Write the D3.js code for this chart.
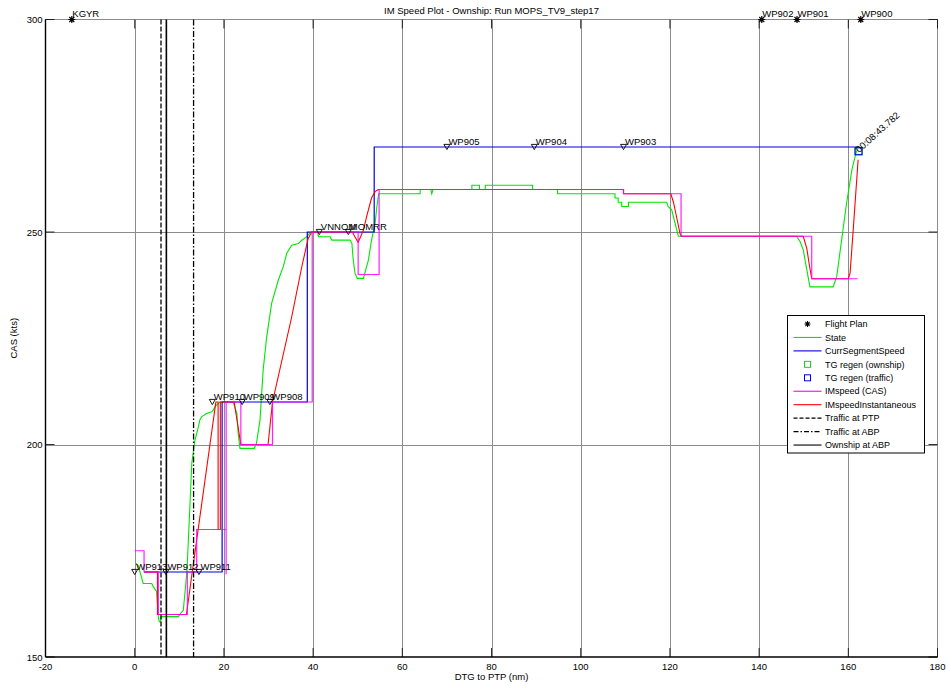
<!DOCTYPE html>
<html>
<head>
<meta charset="utf-8">
<script src="https://cdn.jsdelivr.net/npm/d3@7"></script>
<style>
  body { margin: 0; background: #fff; }
  text { font-family: "Liberation Sans", Arial, sans-serif; fill: #000; }
</style>
</head>
<body>
<svg id="chart" width="946" height="685"></svg>
<script>
// ---- axis ticks ----
const xTicks = [-20, 0, 20, 40, 60, 80, 100, 120, 140, 160, 180];
const yTicks = [150, 200, 250, 300];

// ---- flight plan fixes (plotted at the top of the CAS range) ----
const fixNames = ["KGYR", "WP902", "WP901", "WP900"];
const fixDtg   = [-14.1, 140.6, 148.5, 162.8];
const fixCas   = [300, 300, 300, 300];

// ---- speed-constraint waypoints ----
const wpNames = ["WP913", "WP912", "WP911", "WP910", "WP909", "WP908", "VNNOM", "MOMRR", "WP905", "WP904", "WP903"];
const wpDtg   = [0, 7.0, 14.4, 17.4, 24.1, 30.3, 41.4, 47.9, 70.0, 89.6, 109.6];
const wpCas   = [170, 170, 170, 210, 210, 210, 250, 250, 270, 270, 270];

// ---- State (CAS) ----
const stateDtg = [0.3, 0.8, 1.9, 3.8, 4.2, 4.9, 5.3, 5.5, 5.8, 5.9, 9.8, 10.3, 10.9, 11.7, 12.4, 12.8, 13.5, 14.3, 14.6, 15.0,
  16.1, 17.3, 17.6, 18.0, 19.1, 22.1, 22.9, 23.2, 23.6, 26.8, 27.3, 28.1, 28.8, 29.6, 30.7, 32.2, 33.3, 34.1, 35.2, 36.7,
  37.4, 38.6, 39.3, 39.7, 41.0, 41.2, 43.8, 44.2, 48.3, 48.7, 49.0, 49.4, 49.9, 51.3, 51.6, 52.4, 53.1, 53.9, 54.3, 54.7,
  64.0, 64.0, 66.4, 66.6, 66.9, 75.6, 75.6, 77.3, 77.3, 78.6, 78.6, 89.2, 89.2, 94.8, 94.8, 107.7, 107.7, 108.4, 108.4, 109.2,
  109.2, 110.7, 110.7, 119.3, 119.6, 120.4, 121.9, 148.4, 149.2, 149.9, 150.7, 151.4, 156.6, 157.4, 158.5, 159.6, 160.8, 161.7, 162.1];
const stateCas = [172, 171.5, 167.3, 167.3, 166.5, 165.4, 159.5, 158.3, 158.3, 159.5, 159.5, 160.3, 161, 170, 186, 195.6, 201, 204.2, 205.8, 206.5,
  207.3, 207.7, 208.1, 208.9, 210, 210, 207.3, 202.6, 199.1, 199.1, 200.3, 205.8, 217.5, 225.4, 233.2, 238.7, 241.8, 245, 246.9, 247.3,
  248, 248.9, 249.8, 250, 250, 248.9, 248.9, 248.1, 248.1, 247.3, 243.4, 240.3, 239.1, 239.1, 240.3, 243.4, 248.1, 252, 256, 259,
  259, 260, 260, 259, 260, 260, 261, 261, 260, 260, 261, 261, 260, 260, 259, 259, 258, 258, 257, 257,
  256, 256, 257, 257, 256, 255.2, 249, 249, 247.7, 245.8, 241.1, 237.1, 237.1, 239.5, 248.1, 256.7, 264.6, 268.5, 269.5];

// ---- current segment speed ----
const segDtg = [2.1, 19.6, 19.6, 38.7, 38.7, 53.7, 53.7, 162.3];
const segCas = [170, 170, 210, 210, 250, 250, 270, 270];

// ---- trajectory generator regeneration points ----
const tgOwnDtg = [162.3], tgOwnCas = [269];
const tgTrfDtg = [162.3], tgTrfCas = [269];
const tgTimeLabel = "00:08:43.782";

// ---- IM speed (CAS) ----
const imDtg = [0, 2.1, 2.1, 5.3, 5.3, 11.8, 11.8, 13.9, 13.9, 20.5, 20.5, 20.5, 23.8, 23.8, 30.9, 30.9, 39.8, 39.8, 50.1, 50.1,
  54.8, 54.8, 109.6, 109.6, 122.5, 122.5, 151.8, 151.8, 162.1];
const imCas = [175, 175, 170, 170, 160, 160, 170, 170, 180, 180, 169.5, 210, 210, 200, 200, 210, 210, 250, 250, 240,
  240, 260, 260, 259, 259, 249, 249, 239, 239];

// ---- IM speed, instantaneous ----
const imInstDtg = [2.1, 5.1, 5.1, 11.6, 12.9, 18.2, 18.7, 18.7, 19.2, 19.2, 22.3, 23.8, 29.9, 30.9, 35.2, 37.5, 38.9, 39.7,
  48.8, 49.3, 50.1, 50.7, 51.3, 52.0, 53.1, 53.9, 54.6, 109.6, 109.6, 120.2, 120.8, 121.6, 122.3, 122.6,
  149.9, 150.7, 151.3, 151.8, 160.0, 160.4, 161.1, 162.2];
const imInstCas = [170, 170, 160, 160, 170, 210, 210, 180, 180, 210, 210, 200, 200, 210, 230, 242, 248.5, 250,
  250, 249, 247.6, 249, 250.5, 253.6, 258, 259.5, 260, 260, 259, 259, 257, 253, 249.5, 249,
  249, 246.1, 242, 239, 239, 240.3, 250.5, 267];

// ---- reference positions (DTG, nm) ----
const trafficAtPtp = 5.9;
const trafficAtAbp = 13.2;
const ownshipAtAbp = 7.1;

// ---- layout ----
const W = 946, H = 685;
const L = 45.5, R = 937.5, T = 19.5, B = 657;
const svg = d3.select("#chart");
const x = d3.scaleLinear().domain([-20, 180]).range([L, R]);
const y = d3.scaleLinear().domain([150, 300]).range([B, T]);

const COL = { state: "#00e600", seg: "#0000e6", im: "#ff00ff", imInst: "#ff0000", grid: "#8c8c8c" };

svg.append("rect").attr("width", W).attr("height", H).attr("fill", "#fff");

svg.append("defs").append("clipPath").attr("id", "plotClip")
  .append("rect").attr("x", L).attr("y", T - 6).attr("width", R - L).attr("height", B - T + 6);

// grid
const grid = svg.append("g");
grid.selectAll(".gx").data(xTicks.slice(1, -1)).join("line")
  .attr("x1", d => Math.round(x(d)) + 0.5).attr("x2", d => Math.round(x(d)) + 0.5)
  .attr("y1", T).attr("y2", B)
  .attr("stroke", COL.grid).attr("stroke-width", 1);
grid.selectAll(".gy").data(yTicks.slice(1, -1)).join("line")
  .attr("y1", d => Math.round(y(d)) + 0.5).attr("y2", d => Math.round(y(d)) + 0.5)
  .attr("x1", L).attr("x2", R)
  .attr("stroke", COL.grid).attr("stroke-width", 1);
// top and right frame
grid.append("line").attr("x1", L).attr("x2", R).attr("y1", T).attr("y2", T).attr("stroke", COL.grid);
grid.append("line").attr("x1", R).attr("x2", R).attr("y1", T).attr("y2", B).attr("stroke", COL.grid);

// data layer
const plot = svg.append("g").attr("clip-path", "url(#plotClip)");
const line = d3.line().x(d => x(d[0])).y(d => y(d[1]));
const zipPts = (a, b) => a.map((v, i) => [v, b[i]]);

plot.append("path").datum(zipPts(stateDtg, stateCas)).attr("d", line)
  .attr("fill", "none").attr("stroke", COL.state).attr("stroke-width", 1.1);
plot.append("path").datum(zipPts(segDtg, segCas)).attr("d", line)
  .attr("fill", "none").attr("stroke", COL.seg).attr("stroke-width", 1.2);
plot.append("path").datum(zipPts(imInstDtg, imInstCas)).attr("d", line)
  .attr("fill", "none").attr("stroke", COL.imInst).attr("stroke-width", 1.1);
plot.append("path").datum(zipPts(imDtg, imCas)).attr("d", line)
  .attr("fill", "none").attr("stroke", COL.im).attr("stroke-width", 1.2).attr("stroke-opacity", 0.88);

// TG regen squares
plot.selectAll(".tgo").data(zipPts(tgOwnDtg, tgOwnCas)).join("rect")
  .attr("x", d => x(d[0]) - 3.5).attr("y", d => y(d[1]) - 3.5).attr("width", 7).attr("height", 7)
  .attr("fill", "none").attr("stroke", COL.state).attr("stroke-width", 1);
plot.selectAll(".tgt").data(zipPts(tgTrfDtg, tgTrfCas)).join("rect")
  .attr("x", d => x(d[0]) - 3.5).attr("y", d => y(d[1]) - 3.5).attr("width", 7).attr("height", 7)
  .attr("fill", "none").attr("stroke", COL.seg).attr("stroke-width", 1.1);
svg.selectAll(".tgl").data(zipPts(tgTrfDtg, tgTrfCas)).join("text")
  .attr("transform", d => `translate(${x(d[0]) + 0.5},${y(d[1]) + 2}) rotate(-42)`)
  .attr("font-size", 9.5).text(tgTimeLabel);

// reference vertical lines
const vlines = [
  { v: trafficAtPtp, dash: "5,2", w: 1.3 },
  { v: trafficAtAbp, dash: "6,2,1.5,2", w: 1.3 },
  { v: ownshipAtAbp, dash: null, w: 1.6 }
];
vlines.forEach(o => {
  plot.append("line").attr("x1", x(o.v)).attr("x2", x(o.v)).attr("y1", T).attr("y2", B)
    .attr("stroke", "#000").attr("stroke-width", o.w).attr("stroke-dasharray", o.dash);
});

// waypoint triangles and labels
const tri = "M-3,-2.6L3,-2.6L0,2.6Z";
const wps = wpNames.map((n, i) => ({ n, px: x(wpDtg[i]), py: y(wpCas[i]) }));
svg.selectAll(".wp").data(wps).join("path")
  .attr("d", tri).attr("transform", d => `translate(${d.px},${d.py})`)
  .attr("fill", "none").attr("stroke", "#000").attr("stroke-width", 0.9);
svg.selectAll(".wpl").data(wps).join("text")
  .attr("x", d => d.px + 1.5).attr("y", d => d.py - 2.5)
  .attr("font-size", 9.5).text(d => d.n);

// flight plan asterisks and labels
const star = "M-3.5,0L3.5,0M0,-3.5L0,3.5M-2.5,-2.5L2.5,2.5M-2.5,2.5L2.5,-2.5";
const fixes = fixNames.map((n, i) => ({ n, px: x(fixDtg[i]), py: y(fixCas[i]) }));
svg.selectAll(".fx").data(fixes).join("path")
  .attr("d", star).attr("transform", d => `translate(${d.px},${d.py})`)
  .attr("fill", "none").attr("stroke", "#000").attr("stroke-width", 1.2);
svg.selectAll(".fxl").data(fixes).join("text")
  .attr("x", d => d.px + 0.5).attr("y", d => d.py - 2.5)
  .attr("font-size", 9.5).text(d => d.n);

// axes: left and bottom solid, inward ticks on all four sides
const axes = svg.append("g");
axes.append("line").attr("x1", L).attr("x2", L).attr("y1", T).attr("y2", B).attr("stroke", "#000").attr("stroke-width", 1.4);
axes.append("line").attr("x1", L).attr("x2", R).attr("y1", B).attr("y2", B).attr("stroke", "#000").attr("stroke-width", 1.4);
const TL = 9;
xTicks.forEach(t => {
  axes.append("line").attr("x1", x(t)).attr("x2", x(t)).attr("y1", B).attr("y2", B - TL).attr("stroke", "#000").attr("stroke-width", 0.8);
  axes.append("line").attr("x1", x(t)).attr("x2", x(t)).attr("y1", T).attr("y2", T + TL).attr("stroke", "#000").attr("stroke-width", 0.8);
});
yTicks.forEach(t => {
  axes.append("line").attr("x1", L).attr("x2", L + TL).attr("y1", y(t)).attr("y2", y(t)).attr("stroke", "#000").attr("stroke-width", 0.8);
  axes.append("line").attr("x1", R).attr("x2", R - TL).attr("y1", y(t)).attr("y2", y(t)).attr("stroke", "#000").attr("stroke-width", 0.8);
});
axes.selectAll(".xl").data(xTicks).join("text")
  .attr("x", d => x(d)).attr("y", B + 13).attr("text-anchor", "middle")
  .attr("font-size", 9.5).text(d => d);
axes.selectAll(".yl").data(yTicks).join("text")
  .attr("x", L - 3).attr("y", d => y(d) + 3.5).attr("text-anchor", "end")
  .attr("font-size", 9.5).text(d => d);

// titles
svg.append("text").attr("x", (L + R) / 2).attr("y", 14).attr("text-anchor", "middle")
  .attr("font-size", 9.5).text("IM Speed Plot - Ownship: Run MOPS_TV9_step17");
svg.append("text").attr("x", (L + R) / 2).attr("y", 680).attr("text-anchor", "middle")
  .attr("font-size", 9.5).text("DTG to PTP (nm)");
svg.append("text").attr("transform", `translate(17,${(T + B) / 2}) rotate(-90)`).attr("text-anchor", "middle")
  .attr("font-size", 9.5).text("CAS (kts)");

// legend
const legend = [
  { label: "Flight Plan", type: "star" },
  { label: "State", type: "line", color: COL.state },
  { label: "CurrSegmentSpeed", type: "line", color: COL.seg },
  { label: "TG regen (ownship)", type: "square", color: COL.state },
  { label: "TG regen (traffic)", type: "square", color: COL.seg },
  { label: "IMspeed (CAS)", type: "line", color: COL.im },
  { label: "IMspeedInstantaneous", type: "line", color: COL.imInst },
  { label: "Traffic at PTP", type: "line", color: "#000", dash: "4,2" },
  { label: "Traffic at ABP", type: "line", color: "#000", dash: "5,2,1.5,2" },
  { label: "Ownship at ABP", type: "line", color: "#000" }
];
const lg = svg.append("g");
lg.append("rect").attr("x", 787.5).attr("y", 315.5).attr("width", 137).attr("height", 137.5)
  .attr("fill", "#fff").attr("stroke", "#000").attr("stroke-width", 1);
legend.forEach((e, i) => {
  const cy = 324 + i * 13.45;
  if (e.type === "line") {
    lg.append("line").attr("x1", 793.5).attr("x2", 821.5).attr("y1", cy).attr("y2", cy)
      .attr("stroke", e.color).attr("stroke-width", 1.1).attr("stroke-dasharray", e.dash || null);
  } else if (e.type === "square") {
    lg.append("rect").attr("x", 807.5 - 3).attr("y", cy - 3).attr("width", 6).attr("height", 6)
      .attr("fill", "none").attr("stroke", e.color).attr("stroke-width", 1);
  } else {
    lg.append("path").attr("d", star).attr("transform", `translate(807.5,${cy}) scale(0.85)`)
      .attr("fill", "none").attr("stroke", "#000").attr("stroke-width", 1.2);
  }
  lg.append("text").attr("x", 825).attr("y", cy + 3.2).attr("font-size", 9).text(e.label);
});
</script>
</body>
</html>
